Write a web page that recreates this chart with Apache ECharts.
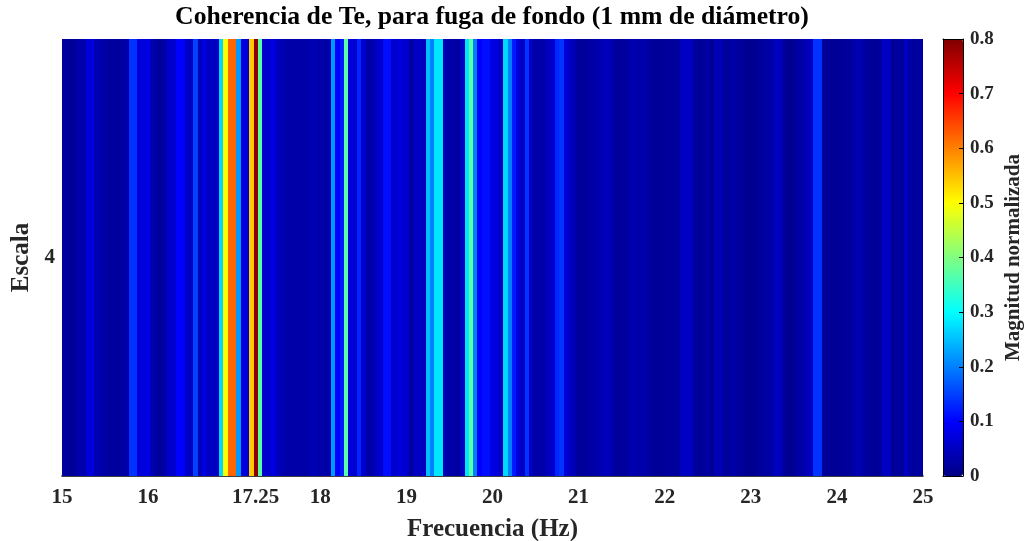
<!DOCTYPE html>
<html>
<head>
<meta charset="utf-8">
<style>html,body{margin:0;padding:0;background:#fff}#c{width:1024px;height:541px}</style>
<script src="https://cdn.jsdelivr.net/npm/echarts@6/dist/echarts.min.js"></script>
</head>
<body>
<div id="c"></div>
<script>
var titleText = 'Coherencia de Te, para fuga de fondo (1 mm de diámetro)';
var xLabel = 'Frecuencia (Hz)';
var yLabel = 'Escala';
var barLabel = 'Magnitud normalizada';
var xTicks = [15, 16, 17.25, 18, 19, 20, 21, 22, 23, 24, 25];
var scales = ['4'];
var freqStart = 15;
var freqStep = 0.05;
var coherence = [
  .02,.02,.015,.02,.035,.035,.07,.07,.04,.03,
  .03,.02,.02,.02,.025,.03,.14,.14,.07,.07,
  .08,.04,.02,.02,.03,.06,.06,.10,.10,.05,
  .05,.15,.04,.08,.05,.05,.05,.27,.50,.62,
  .62,.22,.07,.07,.54,.79,.37,.06,.06,.08,
  .05,.04,.03,.03,.03,.03,.03,.03,.04,.04,
  .03,.03,.03,.22,.10,.12,.37,.07,.06,.13,
  .06,.03,.03,.05,.06,.11,.11,.06,.07,.07,
  .06,.02,.05,.05,.05,.25,.20,.28,.28,.04,
  .03,.03,.02,.05,.28,.37,.20,.10,.11,.11,
  .08,.07,.05,.27,.20,.12,.07,.05,.14,.05,
  .03,.03,.03,.05,.06,.13,.14,.07,.05,.04,
  .02,.02,.02,.03,.03,.035,.045,.045,.03,.02,
  .02,.02,.035,.035,.03,.035,.025,.02,.015,.015,
  .02,.02,.02,.02,.05,.05,.05,.02,.015,.02,
  .025,.015,.04,.04,.02,.02,.03,.02,.02,.01,
  .01,.01,.02,.02,.03,.03,.05,.04,.015,.01,
  .015,.03,.03,.045,.05,.14,.14,.02,.015,.015,
  .015,.015,.02,.02,.03,.04,.03,.02,.02,.015,
  .02,.05,.05,.015,.02,.02,.05,.03,.02,.025,.015
];
var jet = ['#000084','#0000ff','#0080ff','#00ffff','#80ff80','#ffff00','#ff8000','#ff0000','#800000'];

var font = '"Liberation Serif", serif';
var ink = '#262626';
var cells = coherence.map(function (v, i) {
  return [Number((freqStart + i * freqStep).toFixed(2)), 0, v];
});

var chart = echarts.init(document.getElementById('c'), null, {renderer: 'canvas'});
chart.setOption({
  animation: false,
  backgroundColor: '#fff',
  textStyle: {fontFamily: font},
  title: {
    text: titleText, left: 487, top: -1, textAlign: 'center',
    textStyle: {fontFamily: font, fontWeight: 'bold', fontSize: 25.7, color: '#000'}
  },
  grid: [
    {left: 62, top: 39, width: 861, height: 437, outerBoundsMode: 'none'},
    {left: 943, top: 39, width: 20, height: 437, outerBoundsMode: 'none'}
  ],
  xAxis: [
    {
      type: 'value', gridIndex: 0, min: 15, max: 25, position: 'bottom',
      name: xLabel, nameLocation: 'middle', nameGap: 41,
      nameTextStyle: {fontFamily: font, fontWeight: 'bold', fontSize: 25, color: ink},
      axisLine: {show: true, lineStyle: {color: '#000', width: 1.5}},
      axisTick: {show: false},
      splitLine: {show: false},
      axisLabel: {customValues: xTicks, margin: 11, fontFamily: font, fontWeight: 'bold', fontSize: 21, color: ink, hideOverlap: false,
        formatter: function (v) { return String(v); }}
    },
    {type: 'value', gridIndex: 1, min: 0, max: 1, position: 'bottom', zlevel: 1,
      axisLine: {show: true, onZero: false, lineStyle: {color: '#000', width: 1}},
      axisTick: {show: false}, axisLabel: {show: false}, splitLine: {show: false}},
    {type: 'value', gridIndex: 1, min: 0, max: 1, position: 'top', zlevel: 1,
      axisLine: {show: true, onZero: false, lineStyle: {color: '#000', width: 1}},
      axisTick: {show: false}, axisLabel: {show: false}, splitLine: {show: false}}
  ],
  yAxis: [
    {
      type: 'category', gridIndex: 0, data: scales, position: 'left',
      name: yLabel, nameLocation: 'middle', nameGap: 25, nameRotate: 90,
      nameTextStyle: {fontFamily: font, fontWeight: 'bold', fontSize: 25, color: ink},
      axisLine: {show: false}, axisTick: {show: false},
      axisLabel: {margin: 7, fontFamily: font, fontWeight: 'bold', fontSize: 21, color: ink}
    },
    {
      type: 'value', gridIndex: 1, min: 0, max: 0.8, interval: 0.1, position: 'right', zlevel: 1,
      name: barLabel, nameLocation: 'middle', nameGap: 40, nameRotate: 90,
      nameTextStyle: {fontFamily: font, fontWeight: 'bold', fontSize: 21, color: ink},
      axisLine: {show: true, onZero: false, lineStyle: {color: '#000', width: 1}},
      axisTick: {show: true, inside: false, length: -4, lineStyle: {color: '#000', width: 1}},
      splitLine: {show: false},
      axisLabel: {margin: 7, fontFamily: font, fontWeight: 'bold', fontSize: 19, color: ink,
        formatter: function (v) { return String(Number(v.toFixed(1))); }}
    },
    {
      type: 'value', gridIndex: 1, min: 0, max: 0.8, interval: 0.1, position: 'left', zlevel: 1,
      axisLine: {show: true, onZero: false, lineStyle: {color: '#000', width: 1}},
      axisTick: {show: false}, axisLabel: {show: false}, splitLine: {show: false}
    }
  ],
  visualMap: {
    type: 'continuous', seriesIndex: 0, dimension: 2, min: 0, max: 0.8,
    left: 943, top: 39, itemWidth: 20, itemHeight: 437, padding: 0,
    calculable: false, text: null, showLabel: false, z: 1,
    inRange: {color: jet}, textStyle: {fontSize: 0}
  },
  series: [{
    type: 'custom', xAxisIndex: 0, yAxisIndex: 0, coordinateSystem: 'cartesian2d',
    clip: true, silent: true,
    encode: {x: 0, y: 1},
    data: cells,
    renderItem: function (params, api) {
      var f = api.value(0);
      var cs = params.coordSys;
      var c0 = api.coord([f - freqStep / 2, 0]);
      var c1 = api.coord([f + freqStep / 2, 0]);
      var x0 = Math.max(Math.round(c0[0]), cs.x);
      var x1 = Math.min(Math.round(c1[0]), cs.x + cs.width);
      return {
        type: 'rect',
        shape: {x: x0, y: cs.y, width: x1 - x0, height: cs.height},
        style: {fill: api.visual('color')}
      };
    }
  }]
});
</script>
</body>
</html>
